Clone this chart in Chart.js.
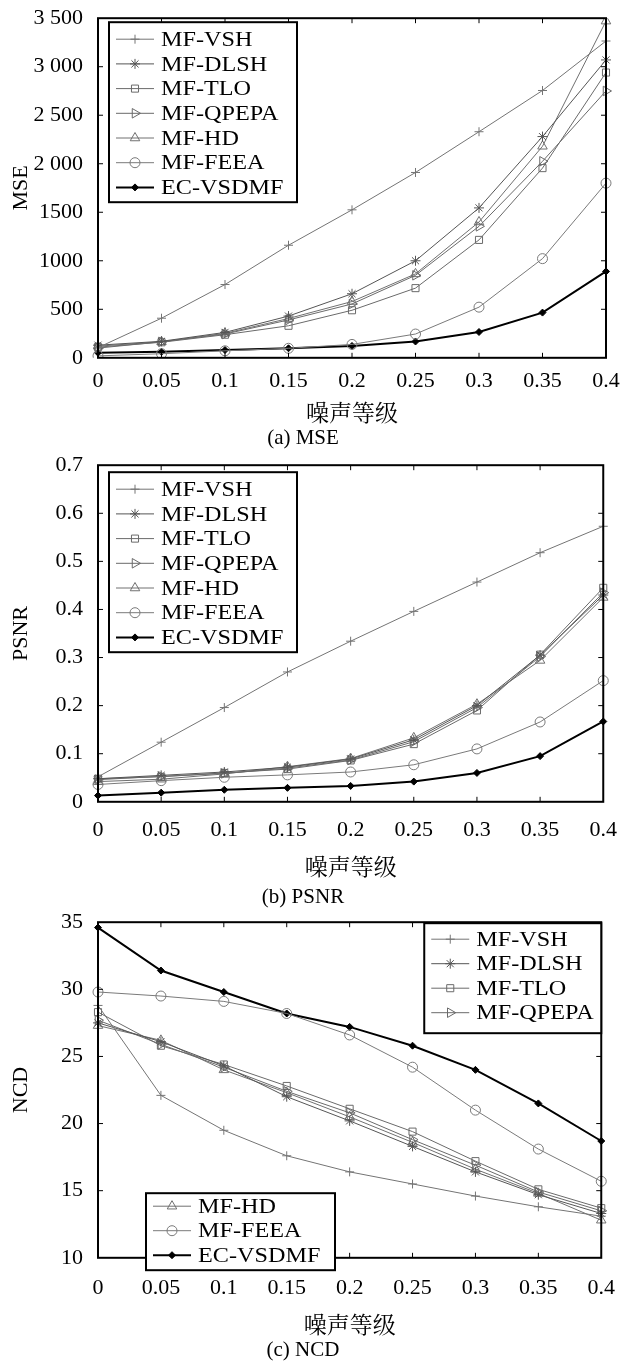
<!DOCTYPE html>
<html>
<head>
<meta charset="utf-8">
<title>MSE / PSNR / NCD</title>
<script src="https://cdn.jsdelivr.net/npm/chart.js@4.4.1/dist/chart.umd.min.js"></script>
<style>
  body { margin: 0; background: #fff; width: 624px; height: 1363px; position: relative; overflow: hidden; }
  canvas { position: absolute; left: 0; }
</style>
</head>
<body>
<canvas id="chartA" width="624" height="453" style="top:-2px"></canvas>
<canvas id="chartB" width="624" height="465" style="top:445px"></canvas>
<canvas id="chartC" width="624" height="461" style="top:902px"></canvas>
<script>
// noise levels on the x axis
var noiseLevels = ['0', '0.05', '0.1', '0.15', '0.2', '0.25', '0.3', '0.35', '0.4'];
var seriesNames = ['MF-VSH', 'MF-DLSH', 'MF-TLO', 'MF-QPEPA', 'MF-HD', 'MF-FEEA', 'EC-VSDMF'];

// (a) MSE
var mseVSH   = [105, 408, 755, 1160, 1525, 1910, 2330, 2755, 3265];
var mseDLSH  = [130, 170, 262, 430, 660, 1000, 1545, 2280, 3070];
var mseTLO   = [110, 160, 238, 330, 490, 718, 1215, 1955, 2940];
var mseQPEPA = [100, 165, 245, 390, 555, 850, 1355, 2025, 2750];
var mseHD    = [120, 165, 252, 405, 580, 865, 1400, 2180, 3470];
var mseFEEA  = [20, 42, 72, 98, 138, 245, 522, 1022, 1800];
var mseEC    = [52, 62, 80, 98, 122, 168, 266, 466, 890];
var mseTicks = ['0', '500', '1000', '1500', '2 000', '2 500', '3 000', '3 500'];

// (b) PSNR
var psnrVSH   = [0.052, 0.124, 0.196, 0.270, 0.334, 0.396, 0.457, 0.518, 0.573];
var psnrDLSH  = [0.048, 0.055, 0.062, 0.072, 0.089, 0.129, 0.200, 0.305, 0.430];
var psnrTLO   = [0.048, 0.052, 0.060, 0.068, 0.086, 0.120, 0.190, 0.306, 0.445];
var psnrQPEPA = [0.046, 0.053, 0.059, 0.070, 0.087, 0.125, 0.196, 0.302, 0.435];
var psnrHD    = [0.042, 0.047, 0.058, 0.073, 0.090, 0.133, 0.203, 0.294, 0.425];
var psnrFEEA  = [0.036, 0.044, 0.051, 0.056, 0.062, 0.077, 0.110, 0.166, 0.252];
var psnrEC    = [0.013, 0.019, 0.025, 0.029, 0.033, 0.042, 0.060, 0.095, 0.167];
var psnrTicks = ['0', '0.1', '0.2', '0.3', '0.4', '0.5', '0.6', '0.7'];

// (c) NCD
var ncdVSH   = [28.8, 22.1, 19.5, 17.6, 16.4, 15.5, 14.6, 13.8, 13.1];
var ncdDLSH  = [27.5, 26.1, 24.3, 22.0, 20.2, 18.3, 16.4, 14.7, 13.3];
var ncdTLO   = [28.3, 25.8, 24.4, 22.8, 21.1, 19.4, 17.2, 15.1, 13.7];
var ncdQPEPA = [27.7, 25.9, 24.2, 22.4, 20.8, 18.8, 16.9, 14.9, 13.5];
var ncdHD    = [27.3, 26.2, 24.0, 22.3, 20.5, 18.6, 16.6, 14.8, 12.8];
var ncdFEEA  = [29.8, 29.5, 29.1, 28.2, 26.6, 24.2, 21.0, 18.1, 15.7];
var ncdEC    = [34.6, 31.4, 29.8, 28.2, 27.2, 25.8, 24.0, 21.5, 18.7];
var ncdTicks = ['10', '15', '20', '25', '30', '35'];

var serif = '"Liberation Serif", "Times New Roman", serif';
var cjk = '"Noto Serif CJK SC", "Noto Sans CJK SC", serif';

Chart.defaults.font.family = serif;
Chart.defaults.font.size = 22;
Chart.defaults.color = '#000';

// marker / line look per series (MATLAB-like gray lines, black result line)
var looks = [
  { color: '#747474', style: 'cross',    rot: 0,  r: 4.5, w: 1 },
  { color: '#555555', style: 'star',     rot: 0,  r: 5,   w: 1 },
  { color: '#6a6a6a', style: 'rect',     rot: 0,  r: 5,   w: 1 },
  { color: '#6a6a6a', style: 'triangle', rot: 90, r: 5.5, w: 1 },
  { color: '#707070', style: 'triangle', rot: 0,  r: 5.5, w: 1 },
  { color: '#7a7a7a', style: 'circle',   rot: 0,  r: 5,   w: 1 },
  { color: '#000000', style: 'rectRot',  rot: 0,  r: 3.5, w: 2 }
];

function buildSets(series) {
  return series.map(function (vals, i) {
    var lk = looks[i];
    return {
      label: seriesNames[i],
      data: vals,
      borderColor: lk.color,
      borderWidth: lk.w,
      pointStyle: lk.style,
      pointRotation: lk.rot,
      pointRadius: lk.r,
      pointBorderWidth: 1,
      pointBorderColor: lk.color,
      pointBackgroundColor: i === 6 ? '#000' : 'rgba(0,0,0,0)',
      tension: 0,
      fill: false
    };
  });
}

// frame, inward ticks and the boxed legends
var framePlugin = {
  id: 'frame',
  afterDraw: function (chart, args, opts) {
    var ctx = chart.ctx, a = chart.chartArea;
    var xs = chart.scales.x, ys = chart.scales.y;
    ctx.save();
    ctx.strokeStyle = '#000';
    ctx.lineWidth = 1;
    ctx.beginPath();
    for (var i = 1; i < noiseLevels.length - 1; i++) {
      var px = xs.getPixelForValue(i);
      ctx.moveTo(px, a.bottom); ctx.lineTo(px, a.bottom - 5);
      ctx.moveTo(px, a.top); ctx.lineTo(px, a.top + 5);
    }
    ys.ticks.forEach(function (t) {
      if (t.value <= ys.min || t.value >= ys.max) return;
      var py = ys.getPixelForValue(t.value);
      ctx.moveTo(a.left, py); ctx.lineTo(a.left + 5, py);
      ctx.moveTo(a.right, py); ctx.lineTo(a.right - 5, py);
    });
    ctx.stroke();
    ctx.lineWidth = 2;
    ctx.strokeRect(a.left, a.top, a.right - a.left, a.bottom - a.top);

    (opts.boxes || []).forEach(function (box) {
      var x0 = box.fromRight ? a.right - box.dx - box.w : a.left + box.dx;
      var y0 = a.top + box.dy;
      ctx.fillStyle = '#fff';
      ctx.fillRect(x0, y0, box.w, box.h);
      ctx.strokeStyle = '#000';
      ctx.lineWidth = 2;
      ctx.strokeRect(x0, y0, box.w, box.h);
      box.items.forEach(function (di, k) {
        var ds = chart.data.datasets[di];
        var y = y0 + box.first + k * box.step;
        ctx.strokeStyle = ds.borderColor;
        ctx.lineWidth = ds.borderWidth;
        ctx.beginPath();
        ctx.moveTo(x0 + 7, y); ctx.lineTo(x0 + 45, y);
        ctx.stroke();
        ctx.lineWidth = 1;
        ctx.fillStyle = ds.pointBackgroundColor;
        if (Chart.helpers && Chart.helpers.drawPoint) {
          Chart.helpers.drawPoint(ctx, { pointStyle: ds.pointStyle, rotation: ds.pointRotation, radius: ds.pointRadius, borderWidth: 1 }, x0 + 26, y);
        }
        // the scanned figure has slightly wide glyphs
        ctx.save();
        ctx.translate(x0 + 52, y + 1);
        ctx.scale(1.1, 1);
        ctx.fillStyle = '#000';
        ctx.font = '22px ' + serif;
        ctx.textBaseline = 'middle';
        ctx.textAlign = 'left';
        ctx.fillText(ds.label, 0, 0);
        ctx.restore();
      });
    });
    ctx.restore();
  }
};

function makeChart(id, series, yMin, yMax, yStep, tickLabels, yTitle, caption, pad, boxes) {
  return new Chart(document.getElementById(id), {
    type: 'line',
    data: { labels: noiseLevels, datasets: buildSets(series) },
    options: {
      responsive: false,
      animation: false,
      devicePixelRatio: 1,
      layout: { padding: { top: 11, right: 18, left: 0, bottom: 0 } },
      plugins: {
        legend: { display: false },
        tooltip: { enabled: false },
        title: {
          display: true, position: 'bottom', text: caption,
          font: { family: serif, size: 21, weight: 'normal' },
          padding: { top: pad.cap, bottom: 0 }
        },
        frame: { boxes: boxes }
      },
      scales: {
        x: {
          type: 'category',
          offset: false,
          grid: { display: false },
          border: { display: false },
          ticks: { padding: pad.tick, maxRotation: 0, autoSkip: false },
          title: { display: true, text: '噪声等级', font: { family: cjk, size: 23 }, padding: { top: pad.title, bottom: 0 } }
        },
        y: {
          min: yMin, max: yMax,
          grid: { display: false },
          border: { display: false },
          afterFit: function (s) { s.width = 98; },
          ticks: {
            stepSize: yStep, padding: 7,
            callback: function (v) { return tickLabels[Math.round((v - yMin) / yStep)]; }
          },
          title: { display: true, text: yTitle, font: { family: serif, size: 22 }, padding: { top: 8, bottom: 0 } }
        }
      }
    },
    plugins: [framePlugin]
  });
}

var legendA = { dx: 11, dy: 4, w: 188, h: 180, first: 17, step: 24.7, items: [0, 1, 2, 3, 4, 5, 6] };
var legendB = { dx: 11, dy: 7, w: 188, h: 180, first: 17, step: 24.7, items: [0, 1, 2, 3, 4, 5, 6] };

makeChart('chartA',
  [mseVSH, mseDLSH, mseTLO, mseQPEPA, mseHD, mseFEEA, mseEC],
  0, 3500, 500, mseTicks, 'MSE', '(a) MSE',
  { tick: 2, title: 2, cap: 0 }, [legendA]);

makeChart('chartB',
  [psnrVSH, psnrDLSH, psnrTLO, psnrQPEPA, psnrHD, psnrFEEA, psnrEC],
  0, 0.7, 0.1, psnrTicks, 'PSNR', '(b) PSNR',
  { tick: 7, title: 2, cap: 5 }, [legendB]);

makeChart('chartC',
  [ncdVSH, ncdDLSH, ncdTLO, ncdQPEPA, ncdHD, ncdFEEA, ncdEC],
  10, 35, 5, ncdTicks, 'NCD', '(c) NCD',
  { tick: 9, title: 0, cap: 0 },
  [
    { fromRight: true, dx: 0, dy: 1, w: 177, h: 110, first: 16, step: 24.5, items: [0, 1, 2, 3] },
    { dx: 48, dy: 271, w: 189, h: 77, first: 13, step: 24.5, items: [4, 5, 6] }
  ]);
</script>
</body>
</html>
